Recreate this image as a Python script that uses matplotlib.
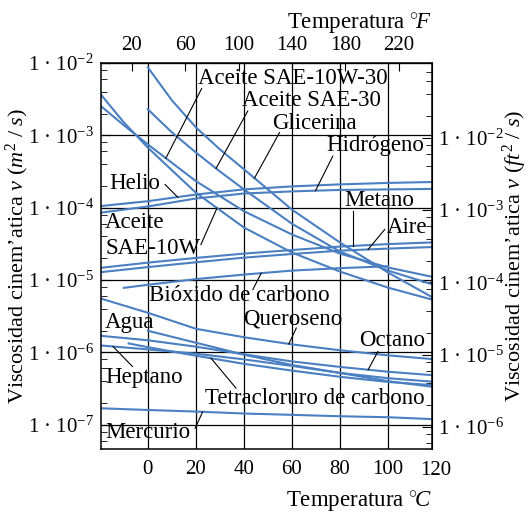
import numpy as np
import matplotlib
matplotlib.use("Agg")
import matplotlib.pyplot as plt
import matplotlib.transforms as mtransforms
from matplotlib.ticker import LogLocator, NullFormatter, FuncFormatter

plt.rcParams['font.family'] = 'Liberation Serif'
plt.rcParams['mathtext.fontset'] = 'custom'
plt.rcParams['mathtext.rm'] = 'Liberation Serif'
plt.rcParams['mathtext.it'] = 'Liberation Serif:italic'
plt.rcParams['mathtext.bf'] = 'Liberation Serif:bold'

# temperatura en grados C, viscosidad cinematica en m^2/s
t_glic = [0, 10, 20, 30, 40, 60, 80, 100, 120]
nu_glic = [8.7e-3, 3.05e-3, 1.29e-3, 6.4e-4, 3.4e-4, 9.4e-5, 3.3e-5, 1.27e-5, 5.4e-6]
t_sae30 = [0, 10, 20, 30, 40, 60, 80, 100, 120]
nu_sae30 = [2.29e-3, 1.10e-3, 5.8e-4, 3.17e-4, 1.79e-4, 6.0e-5, 2.47e-5, 1.35e-5, 8.4e-6]
t_oil = [-20, -10, 0, 20, 40, 60, 80, 100, 120]
nu_sae10w30 = [2.61e-3, 1.38e-3, 7.5e-4, 2.33e-4, 8.95e-5, 4.26e-5, 2.32e-5, 1.49e-5, 1.08e-5]
nu_sae10w = [3.82e-3, 1.51e-3, 6.76e-4, 1.61e-4, 5.32e-5, 2.40e-5, 1.31e-5, 7.85e-6, 5.19e-6]

t_full = [-20, 0, 20, 40, 60, 80, 100, 120]
nu_helio = [1.05e-4, 1.23e-4, 1.52e-4, 1.79e-4, 1.97e-4, 2.10e-4, 2.20e-4, 2.27e-4]
nu_hidrog = [8.5e-5, 1.04e-4, 1.34e-4, 1.57e-4, 1.68e-4, 1.76e-4, 1.79e-4, 1.82e-4]
nu_metano = [1.47e-5, 1.74e-5, 2.02e-5, 2.32e-5, 2.60e-5, 2.90e-5, 3.14e-5, 3.33e-5]
nu_aire = [1.28e-5, 1.51e-5, 1.76e-5, 2.04e-5, 2.29e-5, 2.55e-5, 2.72e-5, 2.87e-5]
t_co2 = [-10, 0, 20, 40, 60, 80, 100]
nu_co2 = [7.8e-6, 8.6e-6, 1.03e-5, 1.19e-5, 1.35e-5, 1.46e-5, 1.55e-5]

t_agua = [0, 20, 40, 60, 80, 100, 120]
nu_agua = [1.99e-6, 1.36e-6, 9.3e-7, 6.7e-7, 5.2e-7, 4.0e-7, 3.3e-7]
nu_queroseno = [5.6e-6, 3.53e-6, 2.12e-6, 1.62e-6, 1.29e-6, 1.07e-6, 9.1e-7, 8.0e-7]
nu_octano = [1.70e-6, 1.47e-6, 1.20e-6, 9.4e-7, 7.5e-7, 6.3e-7, 5.4e-7, 4.8e-7]
nu_heptano = [1.25e-6, 1.10e-6, 9.6e-7, 8.0e-7, 6.5e-7, 5.2e-7, 4.4e-7, 3.9e-7]
t_tetra = [-8, 0, 20, 40, 60, 80, 100, 120]
nu_tetra = [1.33e-6, 1.18e-6, 9.0e-7, 6.95e-7, 5.6e-7, 4.6e-7, 3.9e-7, 3.5e-7]
nu_mercurio = [1.69e-7, 1.60e-7, 1.52e-7, 1.43e-7, 1.37e-7, 1.31e-7, 1.27e-7, 1.19e-7]

celsius_ticks = [0, 20, 40, 60, 80, 100]
fahr_ticks = [20, 60, 100, 140, 180, 220]
m2_ticks = [1e-2, 1e-3, 1e-4, 1e-5, 1e-6, 1e-7]
ft2_ticks = [1e-2, 1e-3, 1e-4, 1e-5, 1e-6]
M2_TO_FT2 = 10.764

blue = '#4a7fc1'
fs = 15      # numeros de los ejes
fl = 16.5    # rotulos
fy = 16      # titulos de los ejes verticales

fig = plt.figure(figsize=(5.29, 5.15), dpi=100)
ax = fig.add_axes([101/529, 1-449/515, 331/529, 386/515])
ax.set_yscale('log')
ax.set_xlim(-19.5, 118.3)
ax.set_ylim(4.62e-8, 1e-2)

curves = [(t_glic, nu_glic), (t_sae30, nu_sae30), (t_oil, nu_sae10w30), (t_oil, nu_sae10w),
          (t_full, nu_helio), (t_full, nu_hidrog), (t_full, nu_metano), (t_full, nu_aire),
          (t_co2, nu_co2), (t_agua, nu_agua), (t_full, nu_queroseno), (t_full, nu_octano),
          (t_full, nu_heptano), (t_tetra, nu_tetra), (t_full, nu_mercurio)]
for t, nu in curves:
    ax.plot(t, nu, color=blue, lw=1.5)

def expfmt(v, pos):
    return '1 · 10$^{%d}$' % int(round(np.log10(v)))

ax.set_xticks(celsius_ticks)
ax.set_yticks(m2_ticks)
ax.yaxis.set_major_formatter(FuncFormatter(expfmt))
ax.yaxis.set_minor_locator(LogLocator(subs=(2, 4, 6, 8)))
ax.yaxis.set_minor_formatter(NullFormatter())
ax.tick_params(axis='both', which='both', direction='in', labelsize=fs)
ax.tick_params(axis='y', which='major', length=7, pad=5)
ax.tick_params(axis='y', which='minor', length=4)
ax.tick_params(axis='x', length=0, pad=8)
ax.grid(True, which='major', color='k', lw=0.9)
for sp in ax.spines.values():
    sp.set_linewidth(1.1)

# "120" queda justo en el borde derecho
trans = mtransforms.blended_transform_factory(ax.transData, ax.transAxes)
ax.text(120, -0.031, '120', transform=trans, ha='center', va='top', fontsize=fs)

ax.set_xlabel(r'Temperatura $^{\circ}\!C$', fontsize=fl, loc='right')
ax.xaxis.set_label_coords(1.0, -0.106, transform=ax.transAxes)
ax.set_ylabel(r'Viscosidad cinem’atica $\nu$ $(m^2\ /\ s)$', fontsize=fy)
ax.yaxis.set_label_coords(-0.21, 0.5, transform=ax.transAxes)

top = ax.secondary_xaxis('top', functions=(lambda c: c*9/5 + 32, lambda f: (f - 32)*5/9))
top.set_xticks(fahr_ticks)
top.tick_params(direction='in', length=6, labelsize=fs, pad=6)
top.set_xlabel(r'Temperatura $^{\circ}\!F$', fontsize=fl, loc='right')
top.xaxis.set_label_coords(1.0, 1.088, transform=ax.transAxes)

right = ax.secondary_yaxis('right', functions=(lambda v: v*M2_TO_FT2, lambda v: v/M2_TO_FT2))
right.set_yticks(ft2_ticks)
right.yaxis.set_major_formatter(FuncFormatter(expfmt))
right.yaxis.set_minor_locator(LogLocator(subs=(2, 4, 6, 8)))
right.yaxis.set_minor_formatter(NullFormatter())
right.tick_params(which='major', direction='in', length=7, labelsize=fs, pad=4)
right.tick_params(which='minor', direction='in', length=4)
right.set_ylabel(r'Viscosidad cinem’atica $\nu$ $(ft^2\ /\ s)$', fontsize=fy)
right.yaxis.set_label_coords(1.207, 0.5, transform=ax.transAxes)


def on_curve(t, nu, x):
    return 10 ** np.interp(x, t, np.log10(nu))


def label(text, x, y, start=None, tip=None):
    ax.text(x, y, text, fontsize=fl, ha='left', va='baseline')
    if start is not None:
        ax.plot([start[0], tip[0]], [start[1], tip[1]], color='k', lw=0.8)


label('Aceite SAE-10W-30', 20.7, 5.08e-3, (22.4, 4.43e-3), (7.5, on_curve(t_oil, nu_sae10w30, 7.5)))
label('Aceite SAE-30', 39.2, 2.55e-3, (41.6, 2.17e-3), (28.4, on_curve(t_sae30, nu_sae30, 28.4)))
label('Glicerina', 51.8, 1.24e-3, (54.8, 1.09e-3), (44.4, on_curve(t_glic, nu_glic, 44.4)))
label('Hidrógeno', 74.3, 6.06e-4, (77.0, 5.16e-4), (69.8, on_curve(t_full, nu_hidrog, 69.8)))
label('Helio', -15.9, 1.83e-4, (7.2, 2.09e-4), (12.4, on_curve(t_full, nu_helio, 12.4)))
label('Aceite', -17.8, 5.27e-5)
label('SAE-10W', -17.8, 2.32e-5, (22.1, 3.09e-5), (28.8, on_curve(t_oil, nu_sae10w, 28.8)))
label('Metano', 81.9, 1.05e-4, (85.4, 8.95e-5), (85.4, on_curve(t_full, nu_metano, 85.4)))
label('Aire', 99.3, 4.49e-5, (98.6, 4.99e-5), (91.7, on_curve(t_full, nu_aire, 91.7)))
label('Bióxido de carbono', 0.5, 5.07e-6, (43.7, 7.36e-6), (47.2, on_curve(t_co2, nu_co2, 47.2)))
label('Agua', -17.8, 2.17e-6)
label('Queroseno', 39.5, 2.41e-6, (61.8, 2.17e-6), (58.7, on_curve(t_full, nu_queroseno, 58.7)))
label('Octano', 87.9, 1.21e-6, (95.8, 1.03e-6), (91.7, on_curve(t_full, nu_octano, 91.7)))
label('Heptano', -17.8, 3.83e-7, (-6.4, 6.38e-7), (-14.5, on_curve(t_full, nu_heptano, -14.5)))
label('Tetracloruro de carbono', 23.9, 1.94e-7, (36.7, 3.21e-7), (26.3, on_curve(t_tetra, nu_tetra, 26.3)))
label('Mercurio', -17.8, 6.50e-8, (19.7, 8.93e-8), (22.8, on_curve(t_full, nu_mercurio, 22.8)))

fig.savefig('out.png', dpi=100)
